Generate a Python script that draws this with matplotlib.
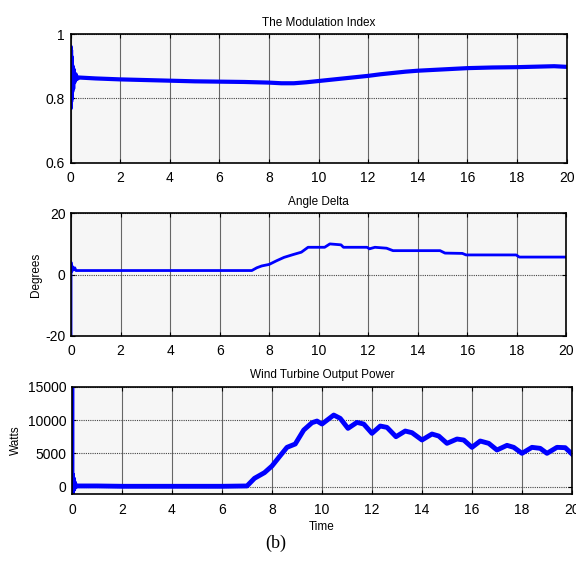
import numpy as np
import matplotlib
matplotlib.use('Agg')
import matplotlib.pyplot as plt

plt.rcParams['font.family'] = ['Liberation Sans', 'DejaVu Sans']
plt.rcParams['axes.unicode_minus'] = False

# modulation index
t_mod = [0, 0.005, 0.01, 0.015, 0.02, 0.03, 0.04, 0.05, 0.06, 0.08, 0.10, 0.12, 0.15,
         0.2, 0.25, 0.3, 1, 2, 3, 4, 5, 6, 7, 8, 8.5, 9, 9.5, 10, 10.5, 11, 11.5, 12,
         12.5, 13, 13.5, 14, 15, 16, 17, 18, 19, 19.5, 20]
mod_idx = [0.86, 0.96, 0.77, 0.95, 0.79, 0.93, 0.80, 0.91, 0.82, 0.90, 0.83, 0.89, 0.85,
           0.875, 0.86, 0.865, 0.862, 0.859, 0.857, 0.855, 0.853, 0.852, 0.851, 0.849,
           0.847, 0.847, 0.85, 0.854, 0.858, 0.862, 0.866, 0.870, 0.875, 0.879, 0.883,
           0.886, 0.890, 0.894, 0.896, 0.897, 0.899, 0.900, 0.898]

# angle delta (degrees)
t_delta = [0, 0, 0.03, 0.06, 0.1, 0.15, 0.2, 0.3, 7.3, 7.5, 7.7, 8.0, 8.3, 8.6, 8.96,
           9.3, 9.57, 10.24, 10.45, 10.9, 11.0, 11.95, 12.05, 12.27, 12.74, 13.0, 14.9,
           15.1, 15.8, 15.95, 17.97, 18.1, 20]
delta = [-20, 4, 1.0, 2.6, 1.5, 2.2, 1.3, 1.3, 1.3, 2.2, 2.8, 3.3, 4.5, 5.6, 6.5,
         7.3, 8.9, 8.9, 10.0, 9.7, 8.9, 8.9, 8.4, 8.9, 8.6, 7.8, 7.8,
         7.0, 6.9, 6.4, 6.4, 5.7, 5.7]

# wind turbine output power (W)
t_pow = [0, 0, 0.02, 0.04, 0.06, 0.08, 0.1, 0.13, 0.2, 1, 2, 3, 4, 5, 6, 7.0, 7.3, 7.7,
         8.0, 8.33, 8.6, 8.93, 9.27, 9.6, 9.8, 10.0, 10.47, 10.73, 11.04, 11.4, 11.67,
         12.0, 12.33, 12.6, 12.96, 13.33, 13.6, 14.0, 14.4, 14.67, 15.0, 15.4, 15.67,
         16.0, 16.33, 16.67, 17.0, 17.4, 17.67, 18.0, 18.4, 18.73, 19.0, 19.4, 19.73, 20]
power = [15000, -1100, 1800, -600, 1200, -300, 600, 0, 100, 100, 50, 50, 50, 50, 50,
         100, 1250, 2100, 3100, 4650, 5900, 6400, 8500, 9600, 9850, 9400, 10750, 10250,
         8750, 9650, 9400, 8000, 9100, 8900, 7500, 8350, 8100, 7000, 7900, 7600, 6500,
         7150, 7000, 5900, 6850, 6500, 5500, 6200, 5900, 5000, 5900, 5750, 5000, 5900,
         5850, 4900]

xticks = np.arange(0, 21, 2)

fig = plt.figure(figsize=(5.76, 5.69), dpi=100)
ax1 = fig.add_axes([0.1227, 0.714, 0.861, 0.2262])
ax2 = fig.add_axes([0.1233, 0.41, 0.860, 0.2151])
ax3 = fig.add_axes([0.125, 0.1313, 0.868, 0.189])


def style(ax):
    ax.set_facecolor('#f6f6f6')
    ax.set_xlim(0, 20)
    ax.set_xticks(xticks)
    ax.grid(True, axis='x', color='#666666', linestyle='-', linewidth=0.8)
    ax.grid(True, axis='y', color='#444444', linestyle=(0, (1, 1)), linewidth=0.8)
    ax.tick_params(direction='in', top=True, right=True, length=3, labelsize=10,
                   pad=4)
    ax.tick_params(axis='x', pad=6)
    for s in ax.spines.values():
        s.set_linewidth(1.2)


ax1.plot(t_mod, mod_idx, color='#0000ff', linewidth=3)
style(ax1)
ax1.set_ylim(0.6, 1)
ax1.set_yticks([0.6, 0.8, 1])
ax1.set_yticklabels(['0.6', '0.8', '1'])
ax1.set_title('The Modulation Index', fontsize=8.5, pad=6)

ax2.plot(t_delta, delta, color='#0000ff', linewidth=2)
style(ax2)
ax2.set_ylim(-20, 20)
ax2.set_yticks([-20, 0, 20])
ax2.set_title('Angle Delta', fontsize=8.5, pad=6)
ax2.set_ylabel('Degrees', fontsize=8.5, labelpad=2)

ax3.plot(t_pow, power, color='#0000ff', linewidth=3.5)
style(ax3)
ax3.set_ylim(-1150, 15000)
ax3.set_yticks([0, 5000, 10000, 15000])
ax3.set_title('Wind Turbine Output Power', fontsize=8.5, pad=6)
ax3.set_ylabel('Watts', fontsize=8.5, labelpad=4)
ax3.set_xlabel('Time', fontsize=8.5, labelpad=3)

fig.text(0.479, 0.045, '(b)', fontsize=13, family='Liberation Serif',
         ha='center', va='center')

fig.savefig('out.png', dpi=100)
